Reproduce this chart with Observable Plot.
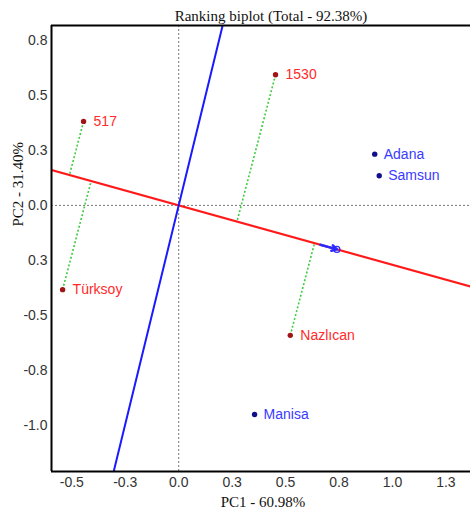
<!DOCTYPE html>
<html>
<head>
<meta charset="utf-8">
<script src="https://cdn.jsdelivr.net/npm/d3@7"></script>
<script src="https://cdn.jsdelivr.net/npm/@observablehq/plot@0.6"></script>
<style>
  body { margin: 0; background: #fff; }
</style>
</head>
<body>
<div id="chart"></div>
<script>
// ---- data ----
const genotypes = ["517", "Türksoy", "1530", "Nazlıcan"];
const genoPC1 = [-0.445, -0.543, 0.453, 0.522];
const genoPC2 = [0.382, -0.383, 0.594, -0.591];

const environments = ["Adana", "Samsun", "Manisa"];
const envPC1 = [0.917, 0.938, 0.355];
const envPC2 = [0.233, 0.135, -0.951];

// average environment coordinate (arrow) and AEC ordinate direction
const aecPoint = [0.74, -0.2];
const ordinateDir = [0.245, 0.975];

const xTicks = [-0.5, -0.25, 0, 0.25, 0.5, 0.75, 1.0, 1.25];
const xTickLabels = ["-0.5", "-0.3", "0.0", "0.3", "0.5", "0.8", "1.0", "1.3"];
const yTicks = [0.75, 0.5, 0.25, 0, -0.25, -0.5, -0.75, -1.0];
const yTickLabels = ["0.8", "0.5", "0.3", "0.0", "0.3", "-0.5", "-0.8", "-1.0"];

const titleText = "Ranking biplot (Total - 92.38%)";
const xTitle = "PC1 - 60.98%";
const yTitle = "PC2 - 31.40%";

const xDomain = [-0.595, 1.365];
const yDomain = [-1.21, 0.818];

// ---- derived tables ----
const geno = genotypes.map((g, i) => ({name: g, x: genoPC1[i], y: genoPC2[i]}));
const env = environments.map((e, i) => ({name: e, x: envPC1[i], y: envPC2[i]}));

const len = Math.hypot(aecPoint[0], aecPoint[1]);
const u = [aecPoint[0] / len, aecPoint[1] / len];
const aecLine = [-6, 6].map(t => ({x: t * u[0], y: t * u[1]}));
const oLen = Math.hypot(ordinateDir[0], ordinateDir[1]);
const ordLine = [-6, 6].map(t => ({x: t * ordinateDir[0] / oLen, y: t * ordinateDir[1] / oLen}));

const proj = geno.map(d => {
  const s = d.x * u[0] + d.y * u[1];
  return {x1: d.x, y1: d.y, x2: s * u[0], y2: s * u[1]};
});

const arrowData = [{x1: aecPoint[0] - 0.08 * u[0], y1: aecPoint[1] - 0.08 * u[1], x2: aecPoint[0], y2: aecPoint[1]}];

const xLab = new Map(xTicks.map((t, i) => [t, xTickLabels[i]]));
const yLab = new Map(yTicks.map((t, i) => [t, yTickLabels[i]]));

const sans = "Liberation Sans, Arial, sans-serif";
const serif = "Liberation Serif, Times New Roman, serif";

const chart = Plot.plot({
  width: 470,
  height: 511,
  marginLeft: 51,
  marginRight: 0,
  marginTop: 25,
  marginBottom: 40,
  style: {background: "#fff", fontFamily: sans},
  x: {domain: xDomain},
  y: {domain: yDomain},
  marks: [
    Plot.axisX({ticks: xTicks, tickFormat: d => xLab.get(d), tickSize: 0, tickPadding: 6,
      fontSize: 14, fill: "#333", label: null}),
    Plot.axisY({ticks: yTicks, tickFormat: d => yLab.get(d), tickSize: 0, tickPadding: 4,
      fontSize: 14, fill: "#333", label: null}),
    // reference axes (dotted)
    Plot.ruleX([0], {stroke: "#777", strokeWidth: 1, strokeDasharray: "2,2"}),
    Plot.ruleY([0], {stroke: "#777", strokeWidth: 1, strokeDasharray: "2,2"}),
    // projections
    Plot.link(proj, {x1: "x1", y1: "y1", x2: "x2", y2: "y2", stroke: "#3ccc3c",
      strokeWidth: 1.6, strokeDasharray: "2,2"}),
    // AEC abscissa and ordinate
    Plot.line(aecLine, {x: "x", y: "y", stroke: "#ff1a1a", strokeWidth: 2, clip: true}),
    Plot.line(ordLine, {x: "x", y: "y", stroke: "#1a1aff", strokeWidth: 2, clip: true}),
    Plot.arrow(arrowData, {x1: "x1", y1: "y1", x2: "x2", y2: "y2", stroke: "#2a2aff",
      strokeWidth: 2.5, headLength: 15, headAngle: 60}),
    Plot.dot([aecPoint], {x: d => d[0], y: d => d[1], r: 3, stroke: "#2a2aff", strokeWidth: 1.2, fill: "none"}),
    // genotypes
    Plot.dot(geno, {x: "x", y: "y", r: 2.7, fill: "#a01515"}),
    Plot.text(geno, {x: "x", y: "y", text: "name", dx: 10, textAnchor: "start",
      fill: "#ff2a2a", fontSize: 14, fontFamily: sans}),
    // environments
    Plot.dot(env, {x: "x", y: "y", r: 2.7, fill: "#10108a"}),
    Plot.text(env, {x: "x", y: "y", text: "name", dx: 9, textAnchor: "start",
      fill: "#3a3aff", fontSize: 14, fontFamily: sans}),
    // frame (left, top, bottom)
    Plot.ruleX([xDomain[0]], {stroke: "#000", strokeWidth: 2}),
    Plot.ruleY([yDomain[1]], {stroke: "#000", strokeWidth: 2}),
    Plot.ruleY([yDomain[0]], {stroke: "#000", strokeWidth: 2}),
    // titles
    Plot.text([titleText], {text: d => d, frameAnchor: "top", lineAnchor: "middle", dx: 10, dy: -9,
      fontSize: 15, fontFamily: serif, fill: "#111"}),
    Plot.text([xTitle], {text: d => d, frameAnchor: "bottom", lineAnchor: "middle", dx: 2, dy: 31,
      fontSize: 15, fontFamily: serif, fill: "#111"}),
    Plot.text([yTitle], {text: d => d, frameAnchor: "left", lineAnchor: "middle", dx: -33, dy: -22, rotate: -90,
      fontSize: 15, fontFamily: serif, fill: "#111"})
  ]
});
document.getElementById("chart").appendChild(chart);
</script>
</body>
</html>
